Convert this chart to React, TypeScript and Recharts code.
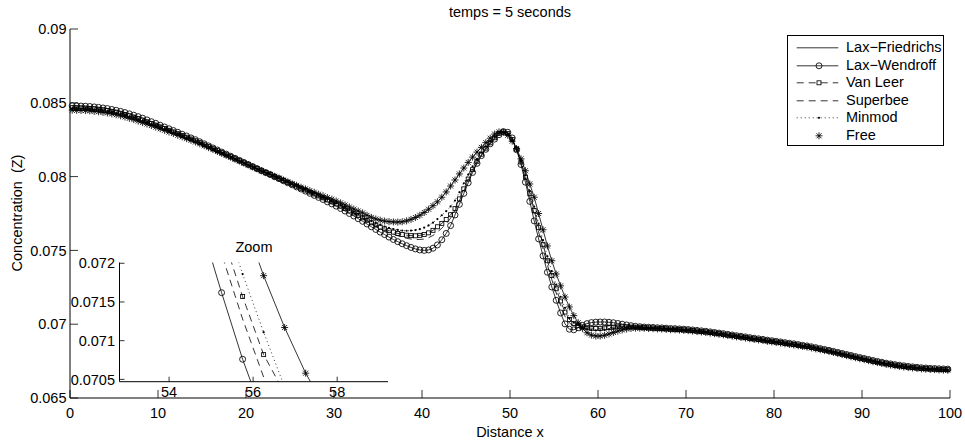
import React from 'react';
import { LineChart, Line, XAxis, YAxis } from 'recharts';

const FONT = '"Liberation Sans", Arial, Helvetica, sans-serif';
const FS = 14.5;
const ink = '#000';

// cell centres of the 200-cell grid on [0, 100]
const xCells = [
  0.25, 0.75, 1.25, 1.75, 2.25, 2.75, 3.25, 3.75, 4.25, 4.75, 5.25, 5.75, 6.25, 6.75, 7.25, 7.75, 8.25, 8.75, 9.25, 9.75,
  10.25, 10.75, 11.25, 11.75, 12.25, 12.75, 13.25, 13.75, 14.25, 14.75, 15.25, 15.75, 16.25, 16.75, 17.25, 17.75, 18.25, 18.75, 19.25, 19.75,
  20.25, 20.75, 21.25, 21.75, 22.25, 22.75, 23.25, 23.75, 24.25, 24.75, 25.25, 25.75, 26.25, 26.75, 27.25, 27.75, 28.25, 28.75, 29.25, 29.75,
  30.25, 30.75, 31.25, 31.75, 32.25, 32.75, 33.25, 33.75, 34.25, 34.75, 35.25, 35.75, 36.25, 36.75, 37.25, 37.75, 38.25, 38.75, 39.25, 39.75,
  40.25, 40.75, 41.25, 41.75, 42.25, 42.75, 43.25, 43.75, 44.25, 44.75, 45.25, 45.75, 46.25, 46.75, 47.25, 47.75, 48.25, 48.75, 49.25, 49.75,
  50.25, 50.75, 51.25, 51.75, 52.25, 52.75, 53.25, 53.75, 54.25, 54.75, 55.25, 55.75, 56.25, 56.75, 57.25, 57.75, 58.25, 58.75, 59.25, 59.75,
  60.25, 60.75, 61.25, 61.75, 62.25, 62.75, 63.25, 63.75, 64.25, 64.75, 65.25, 65.75, 66.25, 66.75, 67.25, 67.75, 68.25, 68.75, 69.25, 69.75,
  70.25, 70.75, 71.25, 71.75, 72.25, 72.75, 73.25, 73.75, 74.25, 74.75, 75.25, 75.75, 76.25, 76.75, 77.25, 77.75, 78.25, 78.75, 79.25, 79.75,
  80.25, 80.75, 81.25, 81.75, 82.25, 82.75, 83.25, 83.75, 84.25, 84.75, 85.25, 85.75, 86.25, 86.75, 87.25, 87.75, 88.25, 88.75, 89.25, 89.75,
  90.25, 90.75, 91.25, 91.75, 92.25, 92.75, 93.25, 93.75, 94.25, 94.75, 95.25, 95.75, 96.25, 96.75, 97.25, 97.75, 98.25, 98.75, 99.25, 99.75,
];

const laxWendroff = [
  0.08480, 0.08479, 0.08478, 0.08477, 0.08475, 0.08472, 0.08469, 0.08465, 0.08461, 0.08455, 0.08449, 0.08442, 0.08434, 0.08425, 0.08416, 0.08406, 0.08396, 0.08384, 0.08372, 0.08361,
  0.08348, 0.08336, 0.08324, 0.08312, 0.08300, 0.08287, 0.08275, 0.08262, 0.08250, 0.08236, 0.08222, 0.08208, 0.08194, 0.08180, 0.08166, 0.08152, 0.08138, 0.08124, 0.08110, 0.08096,
  0.08082, 0.08068, 0.08054, 0.08040, 0.08027, 0.08014, 0.07999, 0.07986, 0.07972, 0.07958, 0.07944, 0.07930, 0.07916, 0.07902, 0.07887, 0.07873, 0.07859, 0.07845, 0.07829, 0.07815,
  0.07800, 0.07784, 0.07767, 0.07750, 0.07733, 0.07715, 0.07697, 0.07679, 0.07660, 0.07642, 0.07624, 0.07607, 0.07590, 0.07574, 0.07559, 0.07545, 0.07532, 0.07520, 0.07510, 0.07503,
  0.07500, 0.07503, 0.07515, 0.07537, 0.07572, 0.07615, 0.07668, 0.07740, 0.07812, 0.07886, 0.07958, 0.08028, 0.08090, 0.08142, 0.08185, 0.08222, 0.08254, 0.08284, 0.08305, 0.08300,
  0.08262, 0.08182, 0.08082, 0.07962, 0.07832, 0.07700, 0.07578, 0.07463, 0.07352, 0.07252, 0.07162, 0.07076, 0.07002, 0.06966, 0.06962, 0.06976, 0.06992, 0.07004, 0.07011, 0.07014,
  0.07015, 0.07015, 0.07013, 0.07010, 0.07005, 0.07000, 0.06995, 0.06990, 0.06986, 0.06983, 0.06981, 0.06979, 0.06978, 0.06976, 0.06975, 0.06973, 0.06971, 0.06970, 0.06968, 0.06966,
  0.06964, 0.06961, 0.06958, 0.06955, 0.06952, 0.06948, 0.06944, 0.06940, 0.06936, 0.06931, 0.06927, 0.06922, 0.06918, 0.06914, 0.06909, 0.06905, 0.06901, 0.06897, 0.06892, 0.06888,
  0.06884, 0.06880, 0.06875, 0.06871, 0.06867, 0.06862, 0.06857, 0.06853, 0.06847, 0.06841, 0.06835, 0.06829, 0.06823, 0.06816, 0.06809, 0.06802, 0.06795, 0.06788, 0.06781, 0.06774,
  0.06768, 0.06761, 0.06754, 0.06748, 0.06742, 0.06736, 0.06731, 0.06726, 0.06722, 0.06718, 0.06714, 0.06711, 0.06708, 0.06705, 0.06703, 0.06701, 0.06700, 0.06698, 0.06697, 0.06696,
];

const vanLeer = [
  0.08467, 0.08466, 0.08465, 0.08464, 0.08462, 0.08459, 0.08456, 0.08452, 0.08448, 0.08442, 0.08436, 0.08429, 0.08421, 0.08412, 0.08403, 0.08393, 0.08383, 0.08371, 0.08360, 0.08349,
  0.08337, 0.08326, 0.08314, 0.08303, 0.08291, 0.08279, 0.08267, 0.08255, 0.08243, 0.08230, 0.08216, 0.08203, 0.08189, 0.08176, 0.08162, 0.08148, 0.08135, 0.08121, 0.08108, 0.08094,
  0.08081, 0.08067, 0.08054, 0.08040, 0.08027, 0.08014, 0.08000, 0.07988, 0.07974, 0.07961, 0.07948, 0.07935, 0.07921, 0.07909, 0.07895, 0.07882, 0.07869, 0.07856, 0.07842, 0.07829,
  0.07815, 0.07800, 0.07784, 0.07768, 0.07753, 0.07737, 0.07721, 0.07704, 0.07687, 0.07672, 0.07658, 0.07646, 0.07634, 0.07624, 0.07615, 0.07608, 0.07603, 0.07600, 0.07599, 0.07602,
  0.07608, 0.07619, 0.07636, 0.07660, 0.07683, 0.07710, 0.07742, 0.07783, 0.07849, 0.07917, 0.07983, 0.08047, 0.08104, 0.08152, 0.08193, 0.08229, 0.08263, 0.08293, 0.08303, 0.08291,
  0.08252, 0.08186, 0.08099, 0.07996, 0.07884, 0.07770, 0.07654, 0.07541, 0.07430, 0.07330, 0.07240, 0.07157, 0.07082, 0.07032, 0.07004, 0.06991, 0.06982, 0.06976, 0.06973, 0.06972,
  0.06972, 0.06975, 0.06977, 0.06980, 0.06982, 0.06982, 0.06982, 0.06981, 0.06980, 0.06979, 0.06977, 0.06975, 0.06974, 0.06972, 0.06971, 0.06969, 0.06967, 0.06966, 0.06964, 0.06962,
  0.06960, 0.06957, 0.06954, 0.06951, 0.06948, 0.06944, 0.06940, 0.06936, 0.06932, 0.06927, 0.06923, 0.06918, 0.06914, 0.06910, 0.06905, 0.06901, 0.06897, 0.06893, 0.06888, 0.06884,
  0.06880, 0.06876, 0.06871, 0.06867, 0.06863, 0.06858, 0.06853, 0.06849, 0.06843, 0.06837, 0.06831, 0.06825, 0.06819, 0.06812, 0.06805, 0.06798, 0.06791, 0.06784, 0.06777, 0.06770,
  0.06764, 0.06757, 0.06750, 0.06744, 0.06738, 0.06732, 0.06727, 0.06722, 0.06718, 0.06714, 0.06710, 0.06707, 0.06704, 0.06701, 0.06699, 0.06697, 0.06696, 0.06694, 0.06693, 0.06692,
];

const superbee = [
  0.08471, 0.08470, 0.08469, 0.08468, 0.08466, 0.08463, 0.08460, 0.08456, 0.08452, 0.08446, 0.08440, 0.08433, 0.08425, 0.08416, 0.08407, 0.08397, 0.08387, 0.08376, 0.08364, 0.08353,
  0.08341, 0.08329, 0.08317, 0.08306, 0.08294, 0.08282, 0.08270, 0.08257, 0.08245, 0.08232, 0.08218, 0.08204, 0.08191, 0.08177, 0.08163, 0.08150, 0.08136, 0.08122, 0.08109, 0.08095,
  0.08081, 0.08067, 0.08054, 0.08040, 0.08027, 0.08014, 0.08000, 0.07987, 0.07974, 0.07960, 0.07946, 0.07933, 0.07920, 0.07907, 0.07892, 0.07879, 0.07866, 0.07853, 0.07838, 0.07825,
  0.07811, 0.07795, 0.07779, 0.07763, 0.07747, 0.07731, 0.07714, 0.07697, 0.07679, 0.07663, 0.07648, 0.07635, 0.07622, 0.07610, 0.07599, 0.07590, 0.07582, 0.07577, 0.07574, 0.07574,
  0.07577, 0.07586, 0.07601, 0.07625, 0.07650, 0.07680, 0.07718, 0.07772, 0.07836, 0.07903, 0.07972, 0.08038, 0.08098, 0.08148, 0.08190, 0.08226, 0.08259, 0.08290, 0.08304, 0.08294,
  0.08256, 0.08184, 0.08093, 0.07984, 0.07865, 0.07745, 0.07626, 0.07513, 0.07402, 0.07302, 0.07212, 0.07128, 0.07053, 0.07008, 0.06989, 0.06986, 0.06985, 0.06985, 0.06986, 0.06986,
  0.06987, 0.06988, 0.06989, 0.06990, 0.06989, 0.06988, 0.06987, 0.06984, 0.06982, 0.06980, 0.06978, 0.06977, 0.06976, 0.06974, 0.06973, 0.06971, 0.06969, 0.06968, 0.06966, 0.06964,
  0.06962, 0.06959, 0.06956, 0.06953, 0.06950, 0.06946, 0.06942, 0.06938, 0.06934, 0.06929, 0.06925, 0.06920, 0.06916, 0.06912, 0.06907, 0.06903, 0.06899, 0.06895, 0.06890, 0.06886,
  0.06882, 0.06878, 0.06873, 0.06869, 0.06865, 0.06860, 0.06855, 0.06851, 0.06845, 0.06839, 0.06833, 0.06827, 0.06821, 0.06814, 0.06807, 0.06800, 0.06793, 0.06786, 0.06779, 0.06772,
  0.06766, 0.06759, 0.06752, 0.06746, 0.06740, 0.06734, 0.06729, 0.06724, 0.06720, 0.06716, 0.06712, 0.06709, 0.06706, 0.06703, 0.06701, 0.06699, 0.06698, 0.06696, 0.06695, 0.06694,
];

const minmod = [
  0.08462, 0.08461, 0.08460, 0.08459, 0.08457, 0.08454, 0.08451, 0.08447, 0.08443, 0.08437, 0.08431, 0.08424, 0.08416, 0.08407, 0.08398, 0.08388, 0.08378, 0.08367, 0.08356, 0.08345,
  0.08334, 0.08323, 0.08311, 0.08300, 0.08288, 0.08276, 0.08264, 0.08252, 0.08240, 0.08228, 0.08214, 0.08201, 0.08187, 0.08174, 0.08161, 0.08147, 0.08134, 0.08120, 0.08107, 0.08094,
  0.08080, 0.08067, 0.08053, 0.08040, 0.08027, 0.08015, 0.08001, 0.07988, 0.07975, 0.07962, 0.07949, 0.07937, 0.07923, 0.07911, 0.07898, 0.07886, 0.07872, 0.07860, 0.07846, 0.07834,
  0.07821, 0.07807, 0.07792, 0.07776, 0.07761, 0.07746, 0.07731, 0.07714, 0.07698, 0.07685, 0.07673, 0.07662, 0.07653, 0.07645, 0.07639, 0.07634, 0.07633, 0.07634, 0.07638, 0.07644,
  0.07654, 0.07669, 0.07688, 0.07712, 0.07738, 0.07766, 0.07798, 0.07838, 0.07894, 0.07955, 0.08013, 0.08070, 0.08120, 0.08164, 0.08203, 0.08237, 0.08269, 0.08295, 0.08302, 0.08288,
  0.08249, 0.08187, 0.08105, 0.08009, 0.07903, 0.07796, 0.07681, 0.07569, 0.07459, 0.07359, 0.07269, 0.07186, 0.07111, 0.07040, 0.07010, 0.06996, 0.06979, 0.06967, 0.06960, 0.06958,
  0.06958, 0.06961, 0.06966, 0.06970, 0.06974, 0.06977, 0.06978, 0.06979, 0.06978, 0.06977, 0.06976, 0.06974, 0.06973, 0.06971, 0.06970, 0.06968, 0.06966, 0.06965, 0.06963, 0.06961,
  0.06959, 0.06956, 0.06953, 0.06950, 0.06947, 0.06943, 0.06939, 0.06935, 0.06931, 0.06926, 0.06922, 0.06917, 0.06913, 0.06909, 0.06904, 0.06900, 0.06896, 0.06892, 0.06887, 0.06883,
  0.06879, 0.06875, 0.06870, 0.06866, 0.06862, 0.06857, 0.06852, 0.06848, 0.06842, 0.06836, 0.06830, 0.06824, 0.06818, 0.06811, 0.06804, 0.06797, 0.06790, 0.06783, 0.06776, 0.06769,
  0.06763, 0.06756, 0.06749, 0.06743, 0.06737, 0.06731, 0.06726, 0.06721, 0.06717, 0.06713, 0.06709, 0.06706, 0.06703, 0.06700, 0.06698, 0.06696, 0.06695, 0.06693, 0.06692, 0.06691,
];

const freeSolution = [
  0.08450, 0.08449, 0.08448, 0.08447, 0.08445, 0.08442, 0.08439, 0.08435, 0.08431, 0.08425, 0.08419, 0.08412, 0.08404, 0.08395, 0.08386, 0.08376, 0.08366, 0.08356, 0.08346, 0.08335,
  0.08324, 0.08314, 0.08302, 0.08292, 0.08280, 0.08269, 0.08257, 0.08246, 0.08234, 0.08222, 0.08209, 0.08196, 0.08183, 0.08170, 0.08157, 0.08144, 0.08131, 0.08118, 0.08105, 0.08092,
  0.08079, 0.08066, 0.08053, 0.08040, 0.08027, 0.08015, 0.08002, 0.07990, 0.07977, 0.07965, 0.07952, 0.07941, 0.07928, 0.07917, 0.07905, 0.07894, 0.07881, 0.07870, 0.07858, 0.07847,
  0.07835, 0.07822, 0.07808, 0.07794, 0.07780, 0.07767, 0.07754, 0.07738, 0.07724, 0.07713, 0.07705, 0.07699, 0.07695, 0.07693, 0.07692, 0.07694, 0.07700, 0.07710, 0.07723, 0.07738,
  0.07757, 0.07779, 0.07803, 0.07829, 0.07860, 0.07896, 0.07936, 0.07977, 0.08018, 0.08058, 0.08096, 0.08132, 0.08166, 0.08198, 0.08230, 0.08260, 0.08288, 0.08303, 0.08300, 0.08280,
  0.08240, 0.08190, 0.08120, 0.08040, 0.07950, 0.07860, 0.07750, 0.07640, 0.07530, 0.07430, 0.07340, 0.07260, 0.07184, 0.07117, 0.07058, 0.07010, 0.06970, 0.06942, 0.06926, 0.06920,
  0.06920, 0.06925, 0.06934, 0.06944, 0.06953, 0.06961, 0.06967, 0.06971, 0.06973, 0.06973, 0.06972, 0.06971, 0.06970, 0.06968, 0.06967, 0.06965, 0.06963, 0.06962, 0.06960, 0.06958,
  0.06956, 0.06953, 0.06950, 0.06947, 0.06944, 0.06940, 0.06936, 0.06932, 0.06928, 0.06923, 0.06919, 0.06914, 0.06910, 0.06906, 0.06901, 0.06897, 0.06893, 0.06889, 0.06884, 0.06880,
  0.06876, 0.06872, 0.06867, 0.06863, 0.06859, 0.06854, 0.06849, 0.06845, 0.06839, 0.06833, 0.06827, 0.06821, 0.06815, 0.06808, 0.06801, 0.06794, 0.06787, 0.06780, 0.06773, 0.06766,
  0.06760, 0.06753, 0.06746, 0.06740, 0.06734, 0.06728, 0.06723, 0.06718, 0.06714, 0.06710, 0.06706, 0.06703, 0.06700, 0.06697, 0.06695, 0.06693, 0.06692, 0.06690, 0.06689, 0.06688,
];

// the Lax-Friedrichs line runs through the Free stars (visible in the zoom box)
const laxFriedrichs = freeSolution;

const xTicks = [0, 10, 20, 30, 40, 50, 60, 70, 80, 90, 100];
const yTicks = [0.065, 0.07, 0.075, 0.08, 0.085, 0.09];
const zoomXTicks = [54, 56, 58];
const zoomYTicks = [0.0705, 0.071, 0.0715, 0.072];
const zoomXDomain = [52.82, 59.21];
const zoomYDomain = [0.07047, 0.07201];

const rows = xCells.map((x, i) => ({
  x,
  lf: laxFriedrichs[i],
  lw: laxWendroff[i],
  vl: vanLeer[i],
  sb: superbee[i],
  mm: minmod[i],
  free: freeSolution[i],
}));
const zoomRows = rows.filter(r => r.x >= 54 && r.x <= 58.5);

// MATLAB-like markers
const MW = 0.85;
const circleMark = (p: any) => (
  <circle key={p.index} cx={p.cx} cy={p.cy} r={3} fill="none" stroke={ink} strokeWidth={MW} />
);
const squareMark = (p: any) => (
  <rect key={p.index} x={p.cx - 2} y={p.cy - 2} width={4} height={4} fill="none" stroke={ink} strokeWidth={MW} />
);
const pointMark = (p: any) => <circle key={p.index} cx={p.cx} cy={p.cy} r={1.1} fill={ink} />;
const starMark = (p: any) => {
  const { cx, cy } = p;
  const d = `M${cx - 3.5},${cy}H${cx + 3.5}M${cx},${cy - 3.5}V${cy + 3.5}` +
    `M${cx - 2.5},${cy - 2.5}L${cx + 2.5},${cy + 2.5}M${cx - 2.5},${cy + 2.5}L${cx + 2.5},${cy - 2.5}`;
  return <path key={p.index} d={d} fill="none" stroke={ink} strokeWidth={MW} />;
};

type Mark = ((p: any) => React.ReactElement) | null;
const series: { key: string; name: string; line: boolean; dash?: string; mark: Mark }[] = [
  { key: 'lf', name: 'Lax\u2212Friedrichs', line: true, mark: null },
  { key: 'lw', name: 'Lax\u2212Wendroff', line: true, mark: circleMark },
  { key: 'vl', name: 'Van Leer', line: true, dash: '7 5', mark: squareMark },
  { key: 'sb', name: 'Superbee', line: true, dash: '7 5', mark: null },
  { key: 'mm', name: 'Minmod', line: true, dash: '1 3', mark: pointMark },
  { key: 'free', name: 'Free', line: false, mark: starMark },
];

const inZoom = (mark: (p: any) => React.ReactElement) => (p: any) =>
  p.value >= zoomYDomain[0] && p.value <= zoomYDomain[1] ? mark(p) : <g key={p.index} />;

const renderLines = (zoom: boolean) =>
  series.map(s => (
    <Line
      key={s.key}
      type="linear"
      dataKey={s.key}
      stroke={s.line ? ink : 'none'}
      strokeWidth={0.8}
      strokeDasharray={s.dash}
      dot={s.mark ? (zoom ? inZoom(s.mark) : s.mark) : false}
      activeDot={false}
      isAnimationActive={false}
    />
  ));

const axisLine = { stroke: ink, strokeWidth: 1 };
const tickLine = { stroke: ink, strokeWidth: 0.8 };
const tickText = { fill: ink, fontSize: FS, fontFamily: FONT };
const fmt = (v: number) => String(v);

const LegendBox = () => (
  <div style={{ position: 'absolute', left: 787, top: 35, width: 157, height: 111, border: '1px solid #000', background: '#fff', boxSizing: 'border-box' }}>
    {series.map((s, i) => (
      <div key={s.key} style={{ position: 'absolute', left: 0, top: 2.9 + i * 17.6, width: 155, height: 17.6 }}>
        <svg width={58} height={17.6} style={{ position: 'absolute', left: 0, top: 0 }}>
          {s.line && <line x1={8.7} x2={50.3} y1={8.8} y2={8.8} stroke={ink} strokeWidth={0.8} strokeDasharray={s.dash} />}
          {s.mark && s.mark({ cx: 31, cy: 8.8, index: 0 })}
        </svg>
        <span style={{ position: 'absolute', left: 58, top: 0, lineHeight: '17.6px', fontSize: FS, whiteSpace: 'nowrap' }}>{s.name}</span>
      </div>
    ))}
  </div>
);

export default function App() {
  return (
    <div style={{ position: 'absolute', left: 0, top: 0, width: 965, height: 441, background: '#fff', fontFamily: FONT, color: ink, overflow: 'hidden' }}>
      <LineChart width={965} height={441} data={rows} margin={{ top: 29, right: 15, bottom: 13, left: 0 }}>
        <XAxis dataKey="x" type="number" domain={[0, 100]} ticks={xTicks} interval={0} height={30}
          axisLine={axisLine} tickLine={tickLine} tickSize={-8} tickMargin={18} tick={tickText} />
        <XAxis xAxisId="top" orientation="top" dataKey="x" type="number" domain={[0, 100]} ticks={xTicks} interval={0} height={0}
          axisLine={axisLine} tickLine={tickLine} tickSize={-8} tick={false} />
        <YAxis type="number" domain={[0.065, 0.09]} ticks={yTicks} interval={0} width={70} allowDataOverflow
          axisLine={axisLine} tickLine={tickLine} tickSize={-8} tickMargin={11.5} tick={tickText} tickFormatter={fmt} />
        <YAxis yAxisId="right" orientation="right" type="number" domain={[0.065, 0.09]} ticks={yTicks} interval={0} width={0} allowDataOverflow
          axisLine={axisLine} tickLine={tickLine} tickSize={-8} tick={false} />
        {renderLines(false)}
      </LineChart>

      <div style={{ position: 'absolute', left: 0, top: 240 }}>
        <LineChart width={420} height={160} data={zoomRows} margin={{ top: 22.5, right: 32, bottom: 0, left: 0 }}>
          <XAxis dataKey="x" type="number" domain={zoomXDomain} ticks={zoomXTicks} interval={0} height={18.3} allowDataOverflow
            axisLine={axisLine} tickLine={tickLine} tickSize={-5} tickMargin={10.3} tick={tickText} />
          <XAxis xAxisId="top" orientation="top" dataKey="x" type="number" domain={zoomXDomain} ticks={zoomXTicks} interval={0} height={0} allowDataOverflow
            axisLine={axisLine} tickLine={tickLine} tickSize={-5} tick={false} />
          <YAxis type="number" domain={zoomYDomain} ticks={zoomYTicks} interval={0} width={119.5} allowDataOverflow
            axisLine={axisLine} tickLine={tickLine} tickSize={-5} tickMargin={9.5} tick={tickText} tickFormatter={fmt} />
          <YAxis yAxisId="right" orientation="right" type="number" domain={zoomYDomain} ticks={zoomYTicks} interval={0} width={0} allowDataOverflow
            axisLine={axisLine} tickLine={tickLine} tickSize={-5} tick={false} />
          {renderLines(true)}
        </LineChart>
      </div>

      <div style={{ position: 'absolute', left: 0, top: 5, width: 1020, textAlign: 'center', fontSize: FS, lineHeight: '14px' }}>temps = 5 seconds</div>
      <div style={{ position: 'absolute', left: 0, top: 425, width: 1020, textAlign: 'center', fontSize: FS, lineHeight: '14px' }}>Distance x</div>
      <div style={{ position: 'absolute', left: -83, top: 206, width: 200, textAlign: 'center', fontSize: FS, lineHeight: '14px', transform: 'rotate(-90deg)', whiteSpace: 'pre' }}>Concentration  (Z)</div>
      <div style={{ position: 'absolute', left: 204, top: 240, width: 100, textAlign: 'center', fontSize: FS, lineHeight: '14px' }}>Zoom</div>
      <LegendBox />
    </div>
  );
}
